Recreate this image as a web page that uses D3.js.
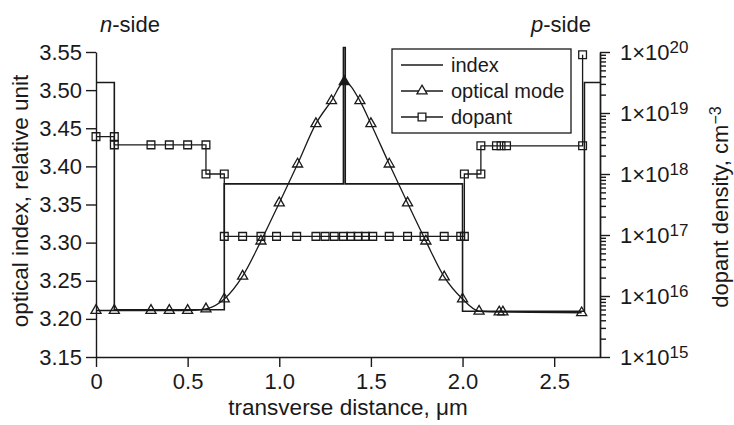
<!DOCTYPE html>
<html>
<head>
<meta charset="utf-8">
<script src="https://cdn.jsdelivr.net/npm/d3@7"></script>
<style>
  body { margin: 0; background: #fff; }
  text { font-family: "Liberation Sans", Arial, sans-serif; fill: #1a1a1a; }
</style>
</head>
<body>
<svg id="chart" width="734" height="425"></svg>
<script>
const xTicks = [0, 0.5, 1.0, 1.5, 2.0, 2.5];
const xTickLabels = ["0", "0.5", "1.0", "1.5", "2.0", "2.5"];
const leftTicks = [3.15, 3.20, 3.25, 3.30, 3.35, 3.40, 3.45, 3.50, 3.55];
const leftTickLabels = ["3.15", "3.20", "3.25", "3.30", "3.35", "3.40", "3.45", "3.50", "3.55"];
const rightTicks = [1e15, 1e16, 1e17, 1e18, 1e19, 1e20];
const rightTickExponents = ["15", "16", "17", "18", "19", "20"];
const legendLabels = ["index", "optical mode", "dopant"];

// refractive index profile (left axis)
const indexProfile = [
  [0, 3.51], [0.1, 3.51], [0.1, 3.212], [0.7, 3.212], [0.7, 3.377],
  [1.35, 3.377], [1.35, 3.556], [1.36, 3.556], [1.36, 3.377],
  [2.0, 3.377], [2.0, 3.21], [2.665, 3.21], [2.665, 3.51], [2.75, 3.51]
];

// optical mode (left axis)
const opticalMode = [
  [0, 3.211], [0.1, 3.211], [0.3, 3.211], [0.4, 3.211], [0.5, 3.211],
  [0.6, 3.213], [0.7, 3.226], [0.8, 3.256], [0.9, 3.302], [1.0, 3.352],
  [1.1, 3.403], [1.2, 3.456], [1.285, 3.486], [1.355, 3.511], [1.44, 3.486],
  [1.5, 3.456], [1.6, 3.403], [1.7, 3.352], [1.8, 3.302], [1.9, 3.255],
  [2.0, 3.226], [2.09, 3.21], [2.2, 3.209], [2.22, 3.209], [2.65, 3.208]
];

// dopant density, cm^-3 (right axis)
const dopant = [
  [0, 4.1e18], [0.1, 4.1e18], [0.1, 3e18], [0.3, 3e18], [0.4, 3e18],
  [0.5, 3e18], [0.6, 3e18], [0.6, 1e18], [0.7, 1e18], [0.7, 9.5e16],
  [0.8, 9.5e16], [0.9, 9.5e16], [0.985, 9.5e16], [1.095, 9.5e16], [1.2, 9.5e16],
  [1.25, 9.5e16], [1.3, 9.5e16], [1.35, 9.5e16], [1.39, 9.5e16], [1.43, 9.5e16],
  [1.47, 9.5e16], [1.51, 9.5e16], [1.6, 9.5e16], [1.7, 9.5e16], [1.79, 9.5e16],
  [1.9, 9.5e16], [1.99, 9.5e16], [2.01, 9.5e16], [2.01, 1e18], [2.1, 1e18],
  [2.1, 2.9e18], [2.185, 2.9e18], [2.21, 2.9e18], [2.24, 2.9e18],
  [2.655, 2.9e18], [2.655, 9e19]
];

const svg = d3.select("#chart");
const ink = "#1a1a1a";
const margin = { left: 96, right: 600, top: 52, bottom: 357 };

const x = d3.scaleLinear().domain([0, 2.75]).range([margin.left, margin.right]);
const yL = d3.scaleLinear().domain([3.15, 3.55]).range([margin.bottom, margin.top]);
const yR = d3.scaleLog().domain([1e15, 1e20]).range([margin.bottom, margin.top]);

// axes
svg.append("g")
  .attr("transform", `translate(0,${margin.bottom})`)
  .call(d3.axisBottom(x).tickValues(xTicks)
    .tickFormat((d, i) => xTickLabels[i]).tickSize(10).tickSizeOuter(0).tickPadding(6));

svg.append("g")
  .attr("transform", `translate(${margin.left},0)`)
  .call(d3.axisLeft(yL).tickValues(leftTicks)
    .tickFormat((d, i) => leftTickLabels[i]).tickSize(10).tickSizeOuter(0).tickPadding(4));

const minorTicks = yR.ticks().filter(v => !rightTicks.includes(v));
svg.append("g")
  .attr("transform", `translate(${margin.right},0)`)
  .call(d3.axisRight(yR).tickValues(minorTicks).tickFormat("").tickSize(6).tickSizeOuter(0));

const rightAxis = svg.append("g")
  .attr("transform", `translate(${margin.right},0)`)
  .call(d3.axisRight(yR).tickValues(rightTicks).tickFormat("").tickSize(10).tickSizeOuter(0));

svg.selectAll(".domain, .tick line").attr("stroke", ink).attr("stroke-width", 1.4);
svg.selectAll(".tick text").style("font-size", "22px").attr("fill", ink);

rightAxis.selectAll(".tick").append("text")
  .attr("x", 20)
  .attr("dy", "0.36em")
  .attr("text-anchor", "start")
  .style("font-size", "22px")
  .each(function(d, i) {
    const t = d3.select(this);
    t.append("tspan").text("1\u00d710");
    t.append("tspan").attr("dy", "-0.42em").style("font-size", "17px").text(rightTickExponents[i]);
  });

// series
const indexLine = d3.line().x(d => x(d[0])).y(d => yL(d[1]));
const modeLine = d3.line().x(d => x(d[0])).y(d => yL(d[1])).curve(d3.curveMonotoneX);
const dopantLine = d3.line().x(d => x(d[0])).y(d => yR(d[1]));

svg.append("path").datum(indexProfile)
  .attr("d", indexLine).attr("fill", "none").attr("stroke", ink).attr("stroke-width", 1.6);

svg.append("path").datum(dopant)
  .attr("d", dopantLine).attr("fill", "none").attr("stroke", ink).attr("stroke-width", 1.3);

svg.append("path").datum(opticalMode)
  .attr("d", modeLine).attr("fill", "none").attr("stroke", ink).attr("stroke-width", 1.3);

const square = d3.symbol(d3.symbolSquare, 60);
const triangle = d3.symbol(d3.symbolTriangle, 44);
const modePeak = d3.max(opticalMode, d => d[1]);

svg.append("g").selectAll("path")
  .data(dopant)
  .join("path")
  .attr("transform", d => `translate(${x(d[0])},${yR(d[1])})`)
  .attr("d", square)
  .attr("fill", "none").attr("stroke", ink).attr("stroke-width", 1.3);

svg.append("g").selectAll("path")
  .data(opticalMode)
  .join("path")
  .attr("transform", d => `translate(${x(d[0])},${yL(d[1])})`)
  .attr("d", triangle)
  .attr("fill", d => d[1] === modePeak ? ink : "none")
  .attr("stroke", ink).attr("stroke-width", 1.3);

// side labels
svg.append("text").attr("x", 130).attr("y", 32).attr("text-anchor", "middle")
  .style("font-size", "22px")
  .html('<tspan font-style="italic">n</tspan>-side');
svg.append("text").attr("x", 561).attr("y", 32).attr("text-anchor", "middle")
  .style("font-size", "22px")
  .html('<tspan font-style="italic">p</tspan>-side');

// axis titles
svg.append("text").attr("transform", "translate(28,201) rotate(-90)")
  .attr("text-anchor", "middle").style("font-size", "22.5px")
  .text("optical index, relative unit");

svg.append("text").attr("x", 348).attr("y", 415)
  .attr("text-anchor", "middle").style("font-size", "22.5px")
  .text("transverse distance, \u03bcm");

const rTitle = svg.append("text").attr("transform", "translate(728,207) rotate(-90)")
  .attr("text-anchor", "middle").style("font-size", "22px");
rTitle.append("tspan").text("dopant density, cm");
rTitle.append("tspan").attr("dy", "-0.45em").style("font-size", "16px").text("\u22123");

// legend
const legend = svg.append("g").attr("transform", "translate(392,49)");
legend.append("rect").attr("width", 179).attr("height", 84)
  .attr("fill", "#fff").attr("stroke", ink).attr("stroke-width", 1.3);

const rows = legend.selectAll("g.row")
  .data(legendLabels)
  .join("g")
  .attr("class", "row")
  .attr("transform", (d, i) => `translate(0,${16 + i * 26})`);

rows.append("line").attr("x1", 9).attr("x2", 51)
  .attr("stroke", ink).attr("stroke-width", 1.3);
rows.append("text").attr("x", 59).attr("dy", "0.35em")
  .style("font-size", "20px").text(d => d);
rows.filter((d, i) => i === 1).append("path")
  .attr("transform", "translate(30,0)").attr("d", triangle)
  .attr("fill", "#fff").attr("stroke", ink).attr("stroke-width", 1.3);
rows.filter((d, i) => i === 2).append("path")
  .attr("transform", "translate(30,0)").attr("d", square)
  .attr("fill", "#fff").attr("stroke", ink).attr("stroke-width", 1.3);
</script>
</body>
</html>
